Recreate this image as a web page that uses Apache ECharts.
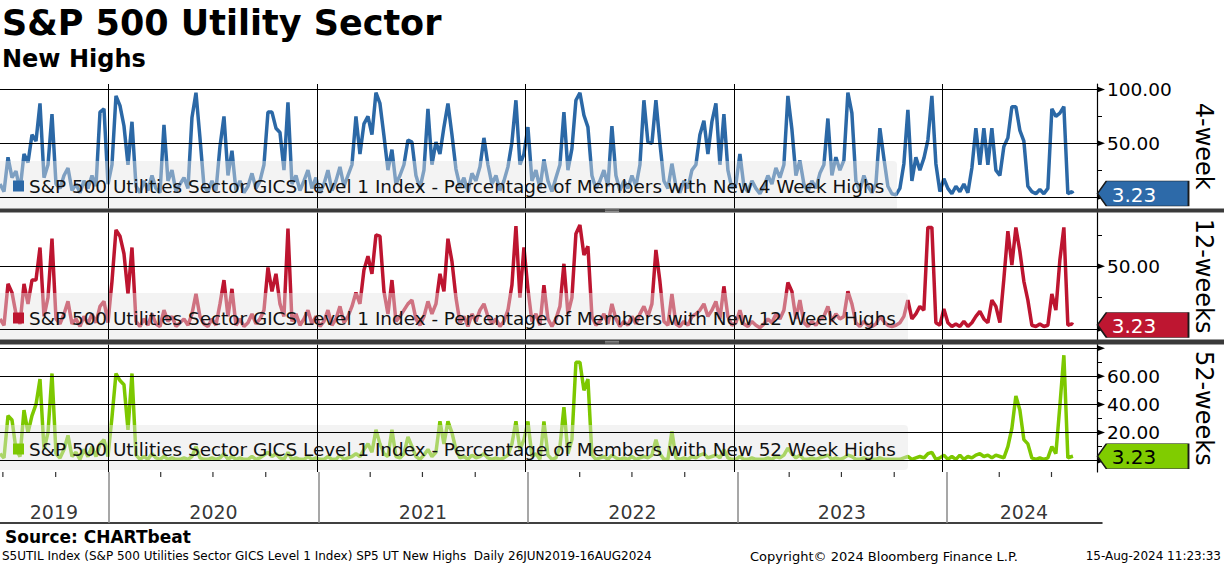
<!DOCTYPE html>
<html><head><meta charset="utf-8">
<script src="https://cdn.jsdelivr.net/npm/echarts@6/dist/echarts.min.js"></script>
<style>html,body{margin:0;padding:0;background:#fff}#c{width:1224px;height:566px}</style>
</head><body><div id="c"></div>
<script>
// ---------------- data ----------------
const startDate = '2019-06-26';   // first weekly observation
const lastDate = '2024-08-16';    // final observation
const axisEnd = '2024-09-27';     // right edge of the time axis

// weekly readings (Wednesdays from 26 Jun 2019) + final value on 16 Aug 2024
const fourWeekHighs = [
  12, 5, 37, 18, 24, 6, 40, 32, 58, 52,
  87, 18, 30, 77, 12, 8, 20, 27, 6, 12,
  4, 15, 8, 20, 10, 79, 82, 12, 30, 94,
  85, 66, 30, 70, 10, 4, 15, 6, 20, 8,
  4, 67, 15, 25, 5, 12, 18, 8, 74, 97,
  55, 10, 5, 15, 6, 47, 75, 20, 43, 6,
  15, 4, 10, 22, 8, 15, 30, 79, 79, 64,
  60, 25, 88, 12, 20, 6, 15, 25, 8, 18,
  4, 12, 25, 6, 15, 28, 10, 20, 30, 75,
  40, 68, 75, 58, 97, 87, 57, 25, 44, 12,
  20, 30, 53, 51, 20, 8, 25, 82, 30, 51,
  40, 65, 87, 58, 26, 10, 18, 5, 22, 15,
  28, 55, 30, 12, 20, 6, 15, 28, 51, 90,
  30, 40, 65, 15, 25, 8, 35, 15, 5, 18,
  30, 79, 25, 45, 90, 97, 76, 65, 20, 8,
  15, 25, 10, 66, 20, 6, 15, 8, 20, 10,
  30, 90, 51, 50, 90, 50, 15, 8, 31, 10,
  4, 15, 8, 25, 30, 58, 71, 40, 70, 87,
  30, 77, 25, 8, 12, 40, 10, 5, 15, 8,
  3, 10, 20, 12, 27, 18, 30, 94, 63, 20,
  34, 12, 5, 15, 8, 22, 30, 73, 20, 37,
  25, 34, 97, 78, 15, 6, 20, 10, 4, 12,
  64, 36, 10, 3, 2, 8, 31, 81, 15, 37,
  25, 36, 53, 94, 31, 5, 17, 8, 3, 10,
  5, 12, 4, 27, 64, 30, 64, 30, 64, 25,
  20, 47, 55, 84, 84, 62, 52, 10, 5, 3,
  7, 3, 8, 82, 75, 78, 84, 3, 5,
  3.23
];
const twelveWeekHighs = [
  8, 3, 36, 29, 12, 4, 36, 20, 39, 39,
  65, 10, 25, 72, 8, 4, 12, 22, 4, 8,
  2, 10, 4, 12, 5, 18, 22, 5, 38, 79,
  74, 60, 28, 65, 6, 2, 8, 3, 12, 4,
  2, 15, 6, 10, 2, 5, 8, 3, 12, 28,
  10, 4, 2, 8, 3, 20, 39, 10, 32, 3,
  8, 2, 5, 12, 4, 8, 15, 49, 30, 44,
  20, 10, 80, 6, 12, 3, 8, 15, 4, 10,
  2, 6, 15, 3, 8, 18, 5, 10, 18, 29,
  20, 47, 58, 44, 75, 74, 30, 12, 39, 6,
  10, 15, 20, 23, 8, 3, 10, 22, 12, 20,
  44, 30, 72, 54, 25, 5, 10, 2, 12, 6,
  15, 20, 10, 4, 8, 2, 6, 15, 35, 82,
  25, 65, 32, 6, 12, 3, 35, 8, 2, 8,
  18, 52, 12, 25, 76, 83, 59, 66, 10, 3,
  6, 12, 4, 20, 8, 2, 6, 3, 10, 4,
  12, 18, 10, 20, 63, 38, 6, 3, 28, 4,
  2, 6, 3, 10, 12, 15, 20, 10, 15, 22,
  8, 34, 10, 3, 5, 15, 4, 2, 6, 3,
  1, 4, 8, 5, 12, 8, 15, 37, 30, 8,
  23, 5, 2, 6, 3, 8, 10, 18, 6, 12,
  8, 10, 30, 20, 5, 2, 6, 3, 2, 4,
  10, 6, 3, 2, 3, 5, 10, 23, 8, 12,
  18, 15, 81, 81, 5, 3, 16, 5, 2, 4,
  2, 6, 2, 5, 10, 14, 8, 5, 23, 18,
  5, 40, 78, 51, 81, 62, 38, 23, 3, 2,
  4, 2, 3, 28, 15, 55, 81, 3, 4,
  3.23
];
const fiftyTwoWeekHighs = [
  5, 2, 32, 29, 8, 3, 36, 20, 32, 40,
  58, 8, 20, 62, 5, 2, 8, 18, 3, 6,
  1, 8, 3, 10, 3, 12, 15, 3, 31, 62,
  57, 54, 22, 62, 4, 1, 3, 1, 5, 2,
  1, 3, 1, 2, 1, 1, 2, 1, 3, 10,
  2, 1, 1, 2, 1, 2, 5, 1, 3, 1,
  2, 1, 1, 3, 1, 2, 4, 6, 3, 5,
  2, 1, 6, 1, 2, 1, 1, 3, 1, 2,
  1, 1, 3, 1, 1, 4, 1, 2, 3, 5,
  3, 8, 12, 6, 22, 12, 5, 3, 22, 3,
  2, 5, 17, 10, 3, 1, 4, 8, 3, 6,
  28, 12, 28, 20, 8, 2, 3, 1, 4, 2,
  3, 5, 2, 1, 2, 1, 2, 4, 12, 28,
  8, 15, 28, 3, 5, 1, 28, 4, 1, 2,
  10, 38, 5, 15, 70, 70, 50, 58, 4, 1,
  2, 3, 1, 4, 2, 1, 2, 1, 3, 1,
  2, 3, 2, 4, 15, 5, 1, 1, 21, 2,
  1, 2, 1, 3, 2, 4, 5, 2, 3, 4,
  2, 8, 2, 1, 1, 3, 1, 1, 2, 1,
  1, 1, 2, 1, 3, 2, 4, 9, 5, 2,
  4, 1, 1, 2, 1, 2, 3, 4, 1, 2,
  1, 2, 4, 3, 1, 1, 2, 1, 1, 1,
  2, 1, 1, 1, 1, 1, 2, 3, 1, 2,
  3, 2, 5, 6, 1, 2, 4, 1, 3, 1,
  4, 1, 3, 2, 4, 5, 3, 4, 2, 4,
  3, 2, 10, 23, 46, 36, 15, 12, 2, 1,
  2, 1, 2, 10, 5, 39, 75, 2, 3,
  3.23
];

const seriesNames = [
  'S&P 500 Utilities Sector GICS Level 1 Index - Percentage of Members with New 4 Week Highs',
  'S&P 500 Utilities Sector GICS Level 1 Index - Percentage of Members with New 12 Week Highs',
  'S&P 500 Utilities Sector GICS Level 1 Index - Percentage of Members with New 52 Week Highs'
];
const panelNames = ['4-week', '12-weeks', '52-weeks'];
const panelTicks = [[0, 25, 50, 75, 100], [0, 25, 50, 75], [0, 10, 20, 30, 40, 50, 60, 70, 80]];
const panelMajorTicks = [[0, 50, 100], [0, 50], [0, 20, 40, 60, 80]];
const panelTickLabels = [[50, 100], [50], [20, 40, 60]];
const yearStarts = ['2020-01-01', '2021-01-01', '2022-01-01', '2023-01-01', '2024-01-01'];
const quarterStarts = ['2019-07-01', '2019-10-01', '2020-04-01', '2020-07-01', '2020-10-01',
  '2021-04-01', '2021-07-01', '2021-10-01', '2022-04-01', '2022-07-01', '2022-10-01',
  '2023-04-01', '2023-07-01', '2023-10-01', '2024-04-01', '2024-07-01'];
const yearLabels = ['2019', '2020', '2021', '2022', '2023', '2024'];
const yearLabelDates = ['2019-09-28', '2020-07-02', '2021-07-02', '2022-07-02', '2023-07-02', '2024-05-14'];

// ---------------- layout / style ----------------
const FONT = 'DejaVu Sans';
const colors = ['#2b68a6', '#bd1530', '#7dc800'];
const tagColors = ['#2d6aa9', '#be1631', '#80cc00'];
const tagText = ['#ffffff', '#ffffff', '#000000'];
const panels = [
  { top: 84, height: 124.5, min: -10.7, max: 105.1, legendTop: 177 },
  { top: 212.5, height: 127, min: -8.4, max: 92.9, legendTop: 309 },
  { top: 344.5, height: 127.5, min: -8.0, max: 82.6, legendTop: 440 }
];
const ts = s => Date.parse(s + 'T00:00:00Z');
const xMin = ts(startDate), xMax = ts(axisEnd);
const allValues = [fourWeekHighs, twelveWeekHighs, fiftyTwoWeekHighs];
const weekDates = fourWeekHighs.map((v, i) =>
  i < fourWeekHighs.length - 1 ? xMin + i * 7 * 864e5 : ts(lastDate));

const tagPath = 'path://M0,13 L9,0 L92,0 L92,26 L9,26 Z';

const grids = panels.map(p => ({ left: 0, right: 122, top: p.top, height: p.height }));
grids.push({ left: 0, right: 122, top: 472, height: 51 });

const xAxes = panels.map((p, i) => ({ gridIndex: i, type: 'time', min: xMin, max: xMax, show: false }));
xAxes.push({
  gridIndex: 3, type: 'time', min: xMin, max: xMax, position: 'top',
  axisLine: { show: true, lineStyle: { color: '#000', width: 1.5 } },
  axisTick: { show: false }, axisLabel: { show: false }, splitLine: { show: false }
});

const yAxes = panels.map((p, i) => ({
  gridIndex: i, type: 'value', position: 'right', min: p.min, max: p.max,
  axisLine: { show: true, lineStyle: { color: '#000', width: 1.2 } },
  axisTick: { show: true, customValues: panelTicks[i], length: 5, lineStyle: { color: '#000', width: 1 } },
  axisLabel: { show: true, customValues: panelTickLabels[i], formatter: v => Number(v).toFixed(2),
    color: '#000', fontSize: 18.5, fontFamily: FONT, margin: 10 },
  splitLine: { show: false },
  name: panelNames[i], nameLocation: 'middle', nameRotate: -90, nameGap: 95,
  nameTextStyle: { fontSize: 24, color: '#000', fontFamily: FONT }
}));
yAxes.push({ gridIndex: 3, type: 'value', min: 0, max: 1, show: false });

const series = panels.map((p, i) => {
  const vals = allValues[i];
  const last = vals[vals.length - 1];
  return {
    type: 'line', name: seriesNames[i], xAxisIndex: i, yAxisIndex: i,
    data: weekDates.map((d, k) => [d, vals[k]]),
    showSymbol: false, symbol: 'none', z: 3,
    lineStyle: { width: 3.5, color: colors[i] },
    itemStyle: { color: colors[i] },
    markLine: {
      silent: true, symbol: ['none', 'none'], label: { show: false },
      lineStyle: { color: '#000', width: 1, type: 'solid' },
      emphasis: { disabled: true },
      data: panelMajorTicks[i].map(v => ({ yAxis: v })).concat(yearStarts.map(d => ({ xAxis: ts(d) })))
    },
    markPoint: {
      silent: true,
      data: panelMajorTicks[i].map(v => ({
        coord: [xMax, v], symbol: 'triangle', symbolRotate: -90, symbolSize: [6, 8],
        symbolOffset: [4, 0], itemStyle: { color: '#000' }, label: { show: false }
      })).concat([{
        coord: [xMax, last], symbol: tagPath, symbolSize: [91, 25], symbolOffset: [46, 0],
        symbolKeepAspect: false,
        itemStyle: { color: tagColors[i], borderColor: '#1a1a1a', borderWidth: 1 },
        label: { show: true, position: 'inside', formatter: last.toFixed(2), color: tagText[i],
          fontSize: 20, fontFamily: FONT, offset: [-9, 1] }
      }])
    }
  };
});
series.push({
  type: 'scatter', xAxisIndex: 3, yAxisIndex: 3, silent: true,
  data: yearLabelDates.map((d, i) => [ts(d), 0.22, yearLabels[i]]),
  symbolSize: 1, itemStyle: { color: 'rgba(0,0,0,0)' },
  label: { show: true, position: 'inside', formatter: p => p.value[2], color: '#000', fontSize: 19, fontFamily: FONT },
  markLine: {
    silent: true, symbol: ['none', 'none'], label: { show: false },
    lineStyle: { color: '#8a8a8a', width: 1.5, type: 'solid' },
    data: yearStarts.map(d => ({ xAxis: ts(d) }))
  }
});
series.push({
  type: 'scatter', xAxisIndex: 3, yAxisIndex: 3, silent: true,
  data: quarterStarts.map(d => [ts(d), 1]),
  symbol: 'rect', symbolSize: [1.2, 5], symbolOffset: [0, 2.5], itemStyle: { color: '#000' }
});

const legends = panels.map((p, i) => ({
  data: [seriesNames[i]], left: 13, top: p.legendTop, padding: 0, z: 10,
  icon: 'rect', itemWidth: 11, itemHeight: 11, selectedMode: false,
  itemStyle: { borderWidth: 0 },
  textStyle: { fontSize: 18.4, color: '#111', fontFamily: FONT }
}));

const boxFill = 'rgba(228,228,228,0.45)';
const graphic = [
  { type: 'rect', z: 5, silent: true, shape: { x: 0, y: 161, width: 897, height: 47.5, r: [0, 4, 0, 0] }, style: { fill: boxFill } },
  { type: 'rect', z: 5, silent: true, shape: { x: 0, y: 293, width: 908, height: 46.5, r: [0, 4, 0, 0] }, style: { fill: boxFill } },
  { type: 'rect', z: 5, silent: true, shape: { x: 0, y: 425, width: 908, height: 45, r: [0, 4, 4, 0] }, style: { fill: boxFill } },
  { type: 'rect', z: 6, silent: true, shape: { x: 0, y: 208.5, width: 1224, height: 4 }, style: { fill: '#3a3a3a' } },
  { type: 'rect', z: 6, silent: true, shape: { x: 0, y: 339.5, width: 1224, height: 5 }, style: { fill: '#3a3a3a' } },
  { type: 'rect', z: 7, silent: true, shape: { x: 605, y: 209.6, width: 14, height: 0.7 }, style: { fill: '#b0b0b0' } },
  { type: 'rect', z: 7, silent: true, shape: { x: 605, y: 211.2, width: 14, height: 0.7 }, style: { fill: '#b0b0b0' } },
  { type: 'rect', z: 7, silent: true, shape: { x: 605, y: 340.9, width: 14, height: 0.7 }, style: { fill: '#b0b0b0' } },
  { type: 'rect', z: 7, silent: true, shape: { x: 605, y: 342.6, width: 14, height: 0.7 }, style: { fill: '#b0b0b0' } }
];

const titleStyle = (size, bold) => ({ fontSize: size, fontWeight: bold ? 'bold' : 'normal', fontFamily: FONT, color: '#000' });
const title = [
  { text: 'S&P 500 Utility Sector', left: 2, top: 5, padding: 0, textStyle: titleStyle(35, true) },
  { text: 'New Highs', left: 2, top: 47, padding: 0, textStyle: titleStyle(24, true) },
  { text: 'Source: CHARTbeat', left: 5, top: 528, padding: 0, textStyle: titleStyle(17, true) },
  { text: 'S5UTIL Index (S&P 500 Utilities Sector GICS Level 1 Index) SP5 UT New Highs  Daily 26JUN2019-16AUG2024', left: 2, top: 550, padding: 0, textStyle: titleStyle(12, false) },
  { text: 'Copyright\u00a9 2024 Bloomberg Finance L.P.', left: 750, top: 550, padding: 0, textStyle: titleStyle(13, false) },
  { text: '15-Aug-2024 11:23:33', right: 3, top: 550, padding: 0, textStyle: titleStyle(12, false) }
];

const chart = echarts.init(document.getElementById('c'), null, { renderer: 'svg' });
chart.setOption({
  animation: false,
  backgroundColor: '#fff',
  textStyle: { fontFamily: FONT },
  title, legend: legends, grid: grids, xAxis: xAxes, yAxis: yAxes, series, graphic,
  tooltip: { show: false }
});
</script></body></html>
